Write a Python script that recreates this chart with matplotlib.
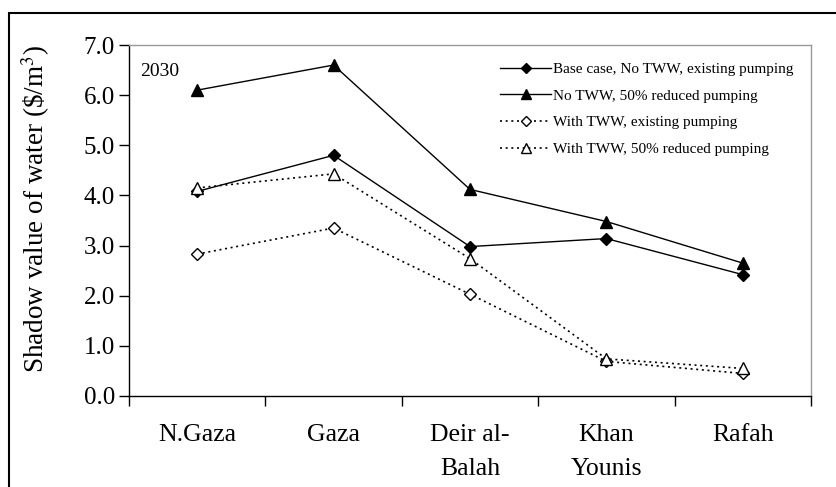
import matplotlib
matplotlib.use("Agg")
import matplotlib.pyplot as plt
from matplotlib.lines import Line2D
from matplotlib.patches import Rectangle

plt.rcParams['font.family'] = ['Liberation Serif', 'DejaVu Serif']
plt.rcParams['mathtext.fontset'] = 'stix'

categories = ["N.Gaza", "Gaza", "Deir al-\nBalah", "Khan\nYounis", "Rafah"]
base_case = [4.08, 4.80, 2.98, 3.14, 2.42]
no_tww_reduced = [6.10, 6.60, 4.12, 3.48, 2.65]
tww_existing = [2.83, 3.35, 2.03, 0.69, 0.45]
tww_reduced = [4.15, 4.43, 2.74, 0.74, 0.55]
series_labels = ["Base case, No TWW, existing pumping",
                 "No TWW, 50% reduced pumping",
                 "With TWW, existing pumping",
                 "With TWW, 50% reduced pumping"]
yticks = [0, 1, 2, 3, 4, 5, 6, 7]

W, H = 837, 487
fig = plt.figure(figsize=(W / 100, H / 100), dpi=100)
L, R, T, B = 129, 811, 45, 396
ax = fig.add_axes([L / W, 1 - B / H, (R - L) / W, (B - T) / H])

x = [i + 0.5 for i in range(len(categories))]
dots = (0, (1.2, 2.2))
ax.plot(x, base_case, color='black', lw=1.0, marker='D', ms=6, mfc='black', mec='black')
ax.plot(x, no_tww_reduced, color='black', lw=1.0, marker='^', ms=8, mfc='black', mec='black')
ax.plot(x, tww_existing, color='black', lw=1.2, ls=dots, marker='D', ms=6, mfc='white', mec='black', mew=1.0)
ax.plot(x, tww_reduced, color='black', lw=1.2, ls=dots, marker='^', ms=8, mfc='white', mec='black', mew=1.0)

ax.set_xlim(0, len(categories))
ax.set_ylim(0, 7)
ax.set_yticks(yticks)
ax.set_yticklabels([f"{v:.1f}" for v in yticks], fontsize=18)
ax.set_xticks(range(len(categories) + 1))
ax.set_xticklabels([])
ax.set_xticks(x, minor=True)
ax.set_xticklabels(categories, minor=True, fontsize=18.5, linespacing=1.7)
ax.tick_params(axis='x', which='minor', length=0, pad=20)
ax.tick_params(axis='x', which='major', direction='out', length=7, width=1)
ax.tick_params(axis='y', direction='out', length=7, width=1, pad=3)

for s in ['left', 'bottom']:
    ax.spines[s].set_color('black')
    ax.spines[s].set_linewidth(1.0)
for s in ['top', 'right']:
    ax.spines[s].set_color('#9a9a9a')
    ax.spines[s].set_linewidth(1.0)

fig.text(36 / W, 1 - 209 / H, r"Shadow value of water (\$/m$^3$)", rotation=90,
         ha='center', va='center', fontsize=19.5)
ax.text(0.016, 0.925, "2030", transform=ax.transAxes, fontsize=14, ha='left', va='center')

handles = [
    Line2D([], [], color='black', lw=1.0, marker='D', ms=5, mfc='black', mec='black'),
    Line2D([], [], color='black', lw=1.0, marker='^', ms=7, mfc='black', mec='black'),
    Line2D([], [], color='black', lw=1.2, ls=dots, marker='D', ms=5, mfc='white', mec='black'),
    Line2D([], [], color='black', lw=1.2, ls=dots, marker='^', ms=7, mfc='white', mec='black'),
]
leg = ax.legend(handles, series_labels, loc='upper right', bbox_to_anchor=(1.0, 1.0),
                borderaxespad=0, fontsize=11, frameon=False,
                handlelength=3.3, handletextpad=0.15, labelspacing=0.84,
                borderpad=1.15)

fig.patches.append(Rectangle((9 / W, -0.1), 1.2, (1 - 13 / H) + 0.1, transform=fig.transFigure,
                             fill=False, edgecolor='black', lw=1.5, clip_on=False))

fig.savefig("out.png", dpi=100)
